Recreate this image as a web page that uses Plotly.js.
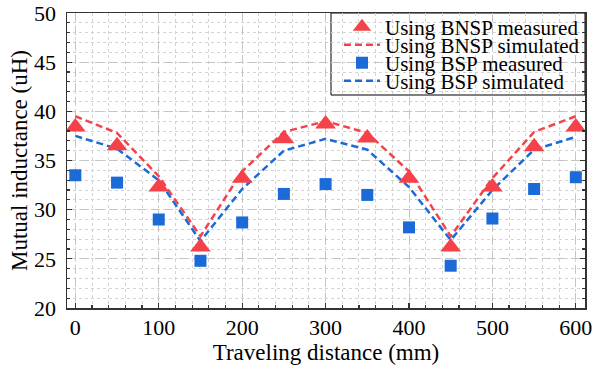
<!DOCTYPE html>
<html>
<head>
<meta charset="utf-8">
<script src="https://cdn.plot.ly/plotly-3.0.1.min.js"></script>
<style>html,body{margin:0;padding:0;background:#fff;}#chart{width:594px;height:372px;}</style>
</head>
<body>
<div id="chart"></div>
<script>
const distance = [0, 50, 100, 150, 200, 250, 300, 350, 400, 450, 500, 550, 600];
const bnspMeasured = [38.4, 36.5, 32.3, 26.2, 33.2, 37.2, 38.7, 37.3, 33.2, 26.2, 32.3, 36.4, 38.4];
const bnspSimulated = [39.5, 37.8, 33.4, 27.3, 33.9, 37.9, 39.0, 37.8, 33.9, 27.3, 33.2, 37.9, 39.5];
const bspMeasured = [33.5, 32.75, 29.0, 24.8, 28.7, 31.6, 32.6, 31.5, 28.2, 24.3, 29.1, 32.1, 33.3];
const bspSimulated = [37.5, 36.2, 33.0, 26.8, 32.1, 36.0, 37.2, 36.1, 32.3, 26.9, 32.0, 36.1, 37.4];
const names = ['Using BNSP measured', 'Using BNSP simulated', 'Using BSP measured', 'Using BSP simulated'];

const red = '#f5424a';
const blue = '#1a6ad8';
const FAM = 'Liberation Serif, Times New Roman, serif';
const font = (s) => ({family: FAM, size: s, color: '#000'});

const traces = [
  {x: distance, y: bnspSimulated, name: names[1], mode: 'lines', legend: 'legend2',
   line: {color: red, width: 2.5, dash: '7px,4px'}},
  {x: distance, y: bspSimulated, name: names[3], mode: 'lines', legend: 'legend4',
   line: {color: blue, width: 2.5, dash: '7px,4px'}},
  {x: distance, y: bnspMeasured, name: names[0], mode: 'markers', legend: 'legend',
   marker: {symbol: 'triangle-up', size: 18, color: red}},
  {x: distance, y: bspMeasured, name: names[2], mode: 'markers', legend: 'legend3',
   marker: {symbol: 'square', size: 12, color: blue}}
];

const plotTop = 13, plotH = 295, plotL = 67, plotW = 518;
const rowY = [27, 45, 63, 81];
const legX = (339 - plotL) / plotW;
function leg(py) {
  return {x: legX, xanchor: 'left', y: (plotTop + plotH - py) / plotH, yanchor: 'middle',
    bgcolor: 'rgba(0,0,0,0)', borderwidth: 0, font: font(21), itemwidth: 36};
}

const layout = {
  width: 594, height: 372,
  margin: {l: plotL, r: 9, t: plotTop, b: 64, autoexpand: false},
  paper_bgcolor: '#fff', plot_bgcolor: '#fff',
  font: font(22),
  showlegend: true,
  legend: leg(rowY[0]), legend2: leg(rowY[1]), legend3: leg(rowY[2]), legend4: leg(rowY[3]),
  shapes: [{type: 'rect', xref: 'paper', yref: 'paper', layer: 'below',
    x0: (331 - plotL) / plotW, x1: 1, y0: (plotTop + plotH - 95) / plotH, y1: 1,
    fillcolor: '#fff', line: {color: '#000', width: 1}}],
  xaxis: {
    range: [-10, 611], tickmode: 'array', tickvals: [0,100,200,300,400,500,600],
    ticks: 'inside', ticklen: 5, tickwidth: 1.2, tickcolor: '#333',
    showline: true, linecolor: '#333', linewidth: 1.5, mirror: true,
    showgrid: true, gridcolor: '#c4c4c4', griddash: '8px,6px', gridwidth: 1,
    zeroline: false, ticklabelstandoff: -1,
    tickfont: font(22),
    minor: {dtick: 20, ticks: 'inside', ticklen: 3, tickcolor: '#333', showgrid: true, gridcolor: '#d4d4d4', griddash: 'dot', gridwidth: 1},
    title: {text: 'Traveling distance (mm)', font: font(23), standoff: 1}
  },
  yaxis: {
    range: [20, 50], tickmode: 'array', tickvals: [20,25,30,35,40,45,50],
    ticks: 'inside', ticklen: 5, tickwidth: 1.2, tickcolor: '#333',
    showline: true, linecolor: '#333', linewidth: 1.5, mirror: 'ticks',
    showgrid: true, gridcolor: '#c4c4c4', griddash: '8px,6px', gridwidth: 1,
    zeroline: false, ticklabelstandoff: 5,
    tickfont: font(22),
    minor: {dtick: 1, ticks: 'inside', ticklen: 3, tickcolor: '#333', showgrid: true, gridcolor: '#d4d4d4', griddash: 'dot', gridwidth: 1},
    title: {text: 'Mutual inductance (uH)', font: font(23), standoff: 0}
  }
};

Plotly.newPlot('chart', traces, layout, {displayModeBar: false, staticPlot: true});
</script>
</body>
</html>
